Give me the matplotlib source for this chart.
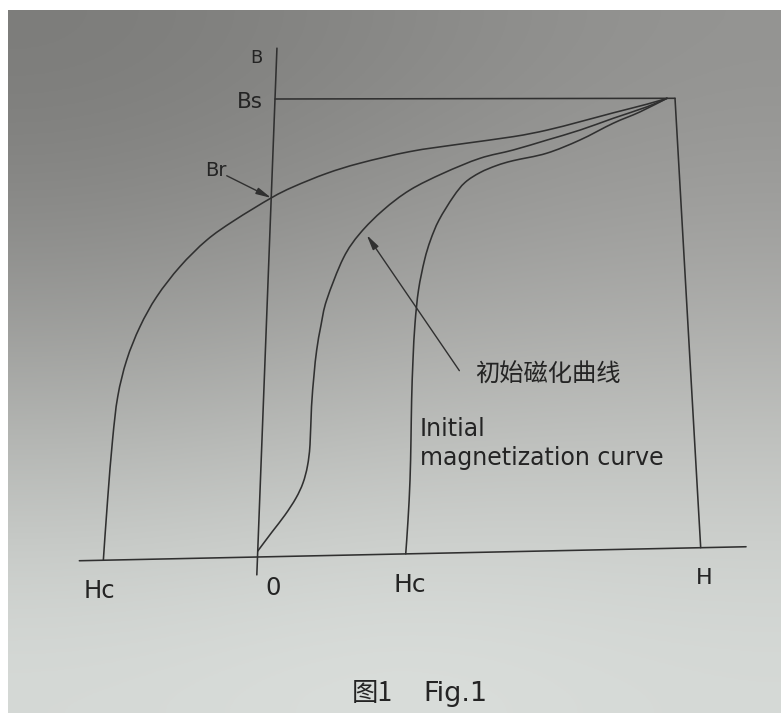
import numpy as np
import matplotlib
matplotlib.use("Agg")
import matplotlib.pyplot as plt
import matplotlib.transforms as mtransforms
from matplotlib.path import Path
from matplotlib.patches import PathPatch

# H in units of Hc, B in units of Bs
# descending branch: from saturation back down to -Hc
down_h = [2.93, 2.778, 2.524, 2.274, 2.025, 1.777, 1.381, 1.012, 0.644, 0.401,
          0.159, 0.0, -0.264, -0.455, -0.637, -0.791, -0.897, -0.975,
          -1.02, -1.035, -1.04, -1.04]
down_b = [1.0, 0.987, 0.968, 0.9485, 0.930, 0.916, 0.900, 0.884, 0.859, 0.837,
          0.808, 0.784, 0.735, 0.693, 0.636, 0.571, 0.506, 0.434,
          0.355, 0.261, 0.131, 0.0]

# initial magnetization curve, from the origin up to saturation
init_h = [0.0, 0.092, 0.1764, 0.2477, 0.2926, 0.320, 0.3334, 0.3365, 0.348, 0.362,
          0.388, 0.424, 0.536, 0.653, 0.820, 1.013, 1.257, 1.528, 1.774, 2.023,
          2.272, 2.523, 2.776, 2.93]
init_b = [0.013, 0.054, 0.0906, 0.1273, 0.160, 0.197, 0.243, 0.327, 0.396, 0.4505,
          0.505, 0.560, 0.651, 0.705, 0.756, 0.7995, 0.836, 0.8685, 0.8865, 0.908,
          0.930, 0.956, 0.981, 1.0]

# ascending branch, from +Hc up to saturation
up_h = [1.0, 1.014, 1.026, 1.031, 1.034, 1.042, 1.055, 1.079, 1.121, 1.164,
        1.2255, 1.330, 1.416, 1.527, 1.650, 1.773, 2.020, 2.269, 2.521, 2.724, 2.93]
up_b = [0.0, 0.074, 0.162, 0.250, 0.338, 0.426, 0.5065, 0.580, 0.645, 0.689,
        0.733, 0.784, 0.8153, 0.837, 0.8524, 0.863, 0.879, 0.908, 0.945, 0.970, 1.0]

H_BOX = 2.99   # right side of the saturation box
BR = 0.784     # remanence: descending branch meets the B axis here

caption_cn = "初始磁化曲线"
caption_en = ["Initial", "magnetization curve"]
fig_title = ["图1", "Fig.1"]

W, H = 781, 713
INK = "#303030"
TXT = "#242424"


class PageTransform(mtransforms.Transform):
    """Bilinear (H, B) -> page mapping, the printed sheet sits a little skewed."""
    input_dims = 2
    output_dims = 2

    def __init__(self, p00, p10, p01, p11, h_span):
        super().__init__()
        self.corners = [np.asarray(p, float) for p in (p00, p10, p01, p11)]
        self.h_span = h_span

    def transform_non_affine(self, values):
        v = np.asarray(values, float).reshape(-1, 2)
        s = v[:, :1] / self.h_span
        b = v[:, 1:2]
        p00, p10, p01, p11 = self.corners
        return ((1 - s) * (1 - b) * p00 + s * (1 - b) * p10
                + (1 - s) * b * p01 + s * b * p11)


def smooth_path(xs, ys):
    # Catmull-Rom through the points, written out as cubic Bezier segments
    p = np.column_stack([xs, ys]).astype(float)
    ext = np.vstack([p[0], p, p[-1]])
    verts = [p[0]]
    codes = [Path.MOVETO]
    for i in range(len(p) - 1):
        p0, p1, p2, p3 = ext[i], ext[i + 1], ext[i + 2], ext[i + 3]
        verts += [p1 + (p2 - p0) / 6, p2 - (p3 - p1) / 6, p2]
        codes += [Path.CURVE4] * 3
    return Path(np.array(verts), codes)


fig = plt.figure(figsize=(W / 100, H / 100), dpi=100, facecolor="white")
ax = fig.add_axes([0, 0, 1, 1])

# paper background, darker at the top where the light falls off
bg = np.array([
    [[124, 124, 122], [136, 136, 134], [148, 148, 146]],
    [[146, 146, 144], [159, 159, 157], [166, 166, 164]],
    [[182, 184, 181], [192, 194, 191], [194, 196, 193]],
    [[214, 218, 215], [220, 224, 221], [214, 218, 215]],
]) / 255.0
ax.imshow(bg, extent=(8, W, H, 10.7), interpolation="bicubic", aspect="auto", zorder=0)
ax.axis("off")

tr = PageTransform((257.5, 557), (700.7, 547.7), (275, 99), (675, 98.3), H_BOX) + ax.transData

line_kw = dict(color=INK, lw=1.15, transform=tr, solid_joinstyle="round",
               solid_capstyle="round", zorder=2)

# axes and saturation box
ax.plot([-1.202, 3.296], [0, 0], **line_kw)
ax.plot([0, 0], [-0.039, 1.111], **line_kw)
ax.plot([0, H_BOX], [1, 1], **line_kw)
ax.plot([H_BOX, H_BOX], [0, 1], **line_kw)

# the three curves
for hs, bs in [(down_h, down_b), (init_h, init_b), (up_h, up_b)]:
    ax.add_patch(PathPatch(smooth_path(hs, bs), transform=tr, fill=False,
                           ec=INK, lw=1.15, capstyle="round", joinstyle="round",
                           zorder=2))

latin = ["DejaVu Sans"]
cjk = ["Noto Sans CJK SC", "DejaVu Sans"]

labels = [
    ("B", -0.148, 1.079, 13),
    ("Bs", -0.188, 0.9805, 15.5),
    ("Br", -0.412, 0.8325, 14),
    ("Hc", -1.05, -0.082, 17.5),
    ("0", 0.117, -0.084, 17.5),
    ("Hc", 1.03, -0.084, 18),
    ("H", 3.0, -0.081, 16),
]
for text, hx, bx, size in labels:
    ax.text(hx, bx, text, transform=tr, ha="center", va="baseline",
            fontsize=size, color=TXT, family=latin)

arrow_kw = dict(arrowstyle="-|>,head_length=0.9,head_width=0.2", mutation_scale=10,
                lw=1.0, color=INK, shrinkA=0, shrinkB=0)

# leader to the remanence point
ax.annotate("", xy=(0, BR), xytext=(-0.333, 0.833), xycoords=tr, textcoords=tr,
            arrowprops=arrow_kw)

# pointer to the initial magnetization curve
ax.annotate("", xy=(0.702, 0.7014), xytext=(1.368, 0.401), xycoords=tr, textcoords=tr,
            arrowprops=arrow_kw)

ax.text(1.477, 0.3755, caption_cn, transform=tr, ha="left", va="baseline",
        fontsize=17.5, color=TXT, family=cjk)
ax.text(1.09, 0.2585, caption_en[0], transform=tr, ha="left", va="baseline",
        fontsize=17, color=TXT, family=latin)
ax.text(1.092, 0.1947, caption_en[1], transform=tr, ha="left", va="baseline",
        fontsize=17, color=TXT, family=latin)

# figure caption under the diagram
ax.text(352, 701, fig_title[0], ha="left", va="baseline", fontsize=19,
        color=TXT, family=cjk)
ax.text(423, 701, fig_title[1], ha="left", va="baseline", fontsize=19.5,
        color=TXT, family=latin)

ax.set_xlim(0, W)
ax.set_ylim(H, 0)
fig.savefig("out.png", dpi=100, facecolor="white")
